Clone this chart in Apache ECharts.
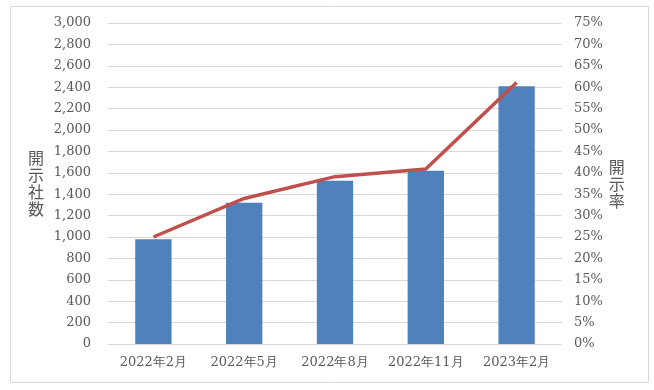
<!DOCTYPE html>
<html><head><meta charset="utf-8">
<script src="https://cdn.jsdelivr.net/npm/echarts@6/dist/echarts.min.js"></script>
<style>html,body{margin:0;padding:0;background:#fff}#c{width:654px;height:390px}</style>
</head><body><div id="c"></div>
<script>
var categories = ['2022年2月','2022年5月','2022年8月','2022年11月','2023年2月'];
var companies = [980, 1320, 1525, 1620, 2410];
var rates = [25.0, 34.0, 39.1, 40.9, 61.1];
var leftTicks = {min:0, max:3000, interval:200};
var rightTicks = {min:0, max:75, interval:5};

var chart = echarts.init(document.getElementById('c'), null, {renderer:'canvas'});
var labelFont = {color:'#595959', fontSize:13, fontFamily:'DejaVu Serif'};
chart.setOption({
  animation:false,
  graphic:[{type:'rect', shape:{x:10.5,y:6.5,width:638,height:376}, style:{fill:'none',stroke:'#d9d9d9',lineWidth:1}}],
  grid:{left:108, right:92, top:23, bottom:46},
  xAxis:{type:'category', data:categories, axisLine:{show:false}, axisTick:{show:false},
    axisLabel:Object.assign({margin:12, interval:0, hideOverlap:false}, labelFont)},
  yAxis:[
    {type:'value', min:leftTicks.min, max:leftTicks.max, interval:leftTicks.interval,
     name:'開\n示\n社\n数', nameLocation:'middle', nameGap:64, nameRotate:0,
     nameTextStyle:{color:'#595959', fontSize:16, fontFamily:'Noto Sans CJK JP', lineHeight:17},
     axisLabel:Object.assign({margin:17, formatter:function(v){return v.toLocaleString('en-US');}}, labelFont),
     splitLine:{lineStyle:{color:'#d9d9d9'}}, axisLine:{show:false}, axisTick:{show:false}},
    {type:'value', min:rightTicks.min, max:rightTicks.max, interval:rightTicks.interval,
     name:'開\n示\n率', nameLocation:'middle', nameGap:46, nameRotate:0,
     nameTextStyle:{color:'#595959', fontSize:16, fontFamily:'Noto Sans CJK JP', lineHeight:17},
     axisLabel:Object.assign({margin:12, formatter:'{value}%'}, labelFont),
     splitLine:{show:false}, axisLine:{show:false}, axisTick:{show:false}}
  ],
  series:[
    {type:'bar', data:companies, barWidth:'40%', itemStyle:{color:'#4F81BD'}},
    {type:'line', yAxisIndex:1, data:rates, symbol:'none', lineStyle:{color:'#C0504D', width:3.5}}
  ]
});
</script></body></html>
